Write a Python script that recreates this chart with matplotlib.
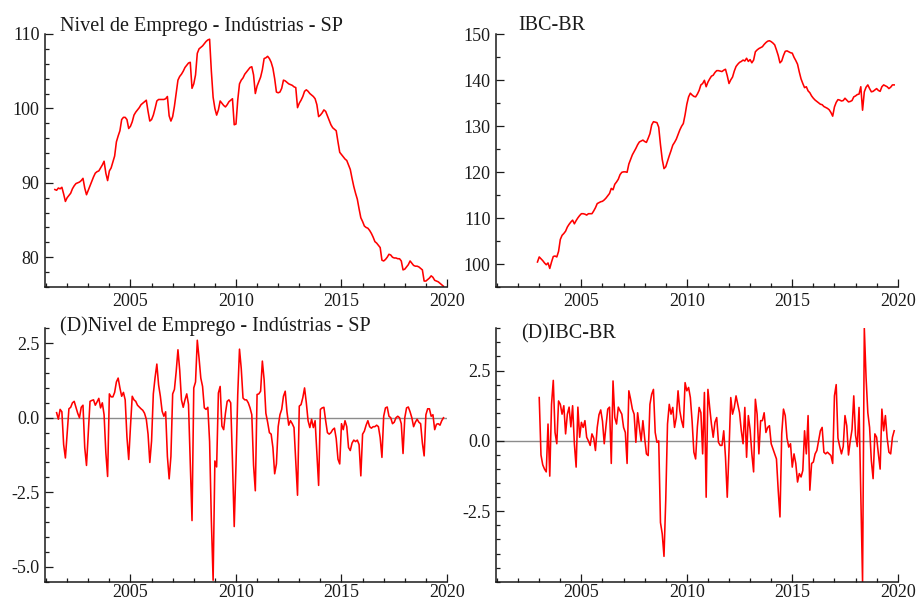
import numpy as np
import matplotlib
matplotlib.use('Agg')
import matplotlib.pyplot as plt
from matplotlib.ticker import MultipleLocator, FixedLocator, FormatStrFormatter

plt.rcParams['font.family'] = ['Liberation Serif', 'DejaVu Serif']
plt.rcParams['axes.unicode_minus'] = False

# Nivel de Emprego - Industrias - SP, monthly, 2001M6 .. 2019M11
emprego_inicio = (2001, 6)
emprego_nivel = [
    89.1, 89.0, 89.3, 89.2, 89.4, 88.5, 87.5,                            # 2001
    88.0, 88.3, 88.6, 89.2, 89.6, 89.9, 90.0, 90.1, 90.3, 90.6, 89.3, 88.4,  # 2002
    89.0, 89.6, 90.2, 90.8, 91.3, 91.5, 91.6, 92.0, 92.4, 92.9, 91.3, 90.3,  # 2003
    91.6, 92.0, 92.8, 93.6, 95.5, 96.3, 97.0, 98.5, 98.8, 98.8, 98.5, 97.3,  # 2004
    97.6, 98.2, 99.1, 99.5, 99.8, 100.1, 100.5, 100.7, 100.9, 101.1, 99.6, 98.3,  # 2005
    98.5, 99.1, 100.0, 101.0, 101.2, 101.2, 101.2, 101.2, 101.3, 101.6, 99.0, 98.3,  # 2006
    98.9, 100.3, 102.0, 103.8, 104.3, 104.6, 105.0, 105.5, 105.8, 106.1, 106.2, 102.7,  # 2007
    103.3, 104.5, 107.4, 108.0, 108.2, 108.4, 108.7, 109.0, 109.2, 109.3, 105.0, 101.5,  # 2008
    100.0, 99.1, 99.8, 101.0, 100.7, 100.4, 100.2, 100.5, 100.9, 101.1, 101.3, 97.8,  # 2009
    97.9, 101.1, 103.3, 103.8, 104.1, 104.6, 104.9, 105.2, 105.5, 105.6, 104.5, 102.0,  # 2010
    103.0, 103.6, 104.2, 105.2, 106.7, 106.8, 107.0, 106.7, 106.2, 105.4, 104.0, 102.2,  # 2011
    102.1, 102.2, 102.7, 103.8, 103.7, 103.5, 103.3, 103.2, 103.1, 102.9, 102.8, 100.1,  # 2012
    100.7, 101.1, 101.6, 102.3, 102.5, 102.3, 102.0, 101.8, 101.6, 101.3, 100.5, 98.9,  # 2013
    99.1, 99.4, 99.8, 99.6, 99.0, 98.4, 97.8, 97.4, 97.2, 97.0, 95.5, 94.1,  # 2014
    93.8, 93.5, 93.2, 93.0, 92.4, 91.8, 90.6, 89.5, 88.6, 87.8, 86.5, 85.3,  # 2015
    84.8, 84.2, 84.0, 83.9, 83.6, 83.2, 82.7, 82.1, 81.9, 81.6, 81.3, 79.6,  # 2016
    79.5, 79.7, 80.0, 80.4, 80.3, 80.0, 79.9, 79.9, 79.8, 79.8, 79.5, 78.3,  # 2017
    78.4, 78.7, 79.0, 79.5, 79.2, 78.9, 78.8, 78.8, 78.7, 78.5, 78.3, 76.8,  # 2018
    76.8, 77.0, 77.2, 77.5, 77.3, 76.9, 76.8, 76.7, 76.5, 76.3, 76.1,        # 2019
]

# (D) Nivel de Emprego, 2001M7 .. 2019M11
emprego_diff_inicio = (2001, 7)
emprego_diff = [
    0.17, -0.05, 0.28, 0.20, -0.90, -1.35,                                   # 2001
    -0.50, 0.30, 0.35, 0.50, 0.55, 0.35, 0.15, 0.00, 0.35, 0.42, -1.00, -1.60,  # 2002
    -0.50, 0.55, 0.58, 0.60, 0.42, 0.53, 0.65, 0.33, 0.50, 0.10, -1.17, -1.97,  # 2003
    0.80, 0.70, 0.70, 0.85, 1.20, 1.33, 1.00, 0.72, 0.85, 0.60, -0.65, -1.40,   # 2004
    -0.30, 0.72, 0.60, 0.55, 0.42, 0.36, 0.30, 0.25, 0.15, -0.05, -0.55, -1.50, # 2005
    -0.78, 0.80, 1.35, 1.80, 1.10, 0.72, 0.22, 0.05, 0.20, -1.30, -2.05, -1.30, # 2006
    0.80, 0.95, 1.55, 2.28, 1.60, 0.60, 0.35, 0.60, 0.80, 0.45, -1.45, -3.45,   # 2007
    1.00, 1.20, 2.60, 2.00, 1.33, 1.05, 0.33, 0.28, 0.35, -0.80, -3.45, -5.45,  # 2008
    -1.45, -1.65, 0.83, 1.05, -0.28, -0.40, 0.15, 0.55, 0.60, 0.50, -1.45, -3.65,  # 2009
    -1.60, 0.78, 2.30, 1.65, 0.66, 0.60, 0.60, 0.50, 0.33, 0.10, -1.60, -2.45,  # 2010
    0.78, 0.80, 0.89, 1.90, 1.28, 0.15, -0.15, -0.50, -0.55, -1.00, -1.88, -1.55,  # 2011
    -0.30, 0.10, 0.28, 0.72, 0.89, 0.20, -0.25, -0.10, -0.20, -0.33, -1.45, -2.60,  # 2012
    0.39, 0.44, 0.67, 1.00, 0.50, -0.10, -0.33, -0.05, -0.33, -0.10, -1.20, -2.27,  # 2013
    0.28, 0.33, 0.35, -0.10, -0.50, -0.55, -0.50, -0.40, -0.35, -0.70, -1.39, -1.55,  # 2014
    -0.20, -0.40, -0.10, -0.30, -1.00, -1.10, -0.85, -0.75, -0.80, -0.75, -0.90, -1.95,  # 2015
    -0.55, -0.45, -0.25, -0.10, -0.30, -0.35, -0.30, -0.30, -0.25, -0.30, -0.67, -1.33,  # 2016
    0.05, 0.33, 0.36, 0.05, 0.00, -0.20, -0.15, 0.00, 0.05, 0.00, -0.20, -1.20,  # 2017
    0.00, 0.33, 0.36, 0.20, 0.00, -0.30, -0.15, -0.05, -0.15, -0.20, -0.85, -1.28,  # 2018
    0.10, 0.30, 0.30, 0.05, 0.10, -0.40, -0.22, -0.20, -0.25, -0.10, 0.00,     # 2019
]

# IBC-BR, monthly, 2002M12 .. 2019M11
ibc_inicio = (2002, 12)
ibc_nivel = [
    100.5,                                                                    # 2002
    101.6, 101.2, 100.8, 100.3, 99.9, 100.3, 99.1, 100.5, 101.7, 101.8, 101.6, 102.8,  # 2003
    105.4, 106.3, 106.7, 107.2, 108.1, 108.7, 109.2, 109.6, 108.8, 109.5, 110.1, 110.6,  # 2004
    111.0, 111.0, 110.9, 110.7, 111.0, 111.0, 111.0, 111.6, 112.3, 113.2, 113.4, 113.6,  # 2005
    113.7, 114.0, 114.4, 114.9, 115.4, 116.5, 116.2, 117.4, 117.9, 118.5, 119.5, 120.0,  # 2006
    120.1, 120.1, 120.0, 121.8, 122.8, 123.8, 124.5, 125.2, 126.0, 126.6, 126.8, 127.0,  # 2007
    126.7, 126.5, 127.4, 128.4, 130.3, 131.0, 130.9, 130.8, 129.8, 126.0, 122.8, 120.8,  # 2008
    121.2, 122.4, 123.6, 124.7, 125.9, 126.5, 127.2, 128.2, 129.2, 130.0, 130.6, 132.5,  # 2009
    134.8, 136.4, 137.2, 136.8, 136.5, 136.4, 137.0, 137.8, 139.0, 139.3, 140.0, 138.6,  # 2010
    139.6, 140.3, 140.9, 141.1, 141.7, 142.1, 142.1, 142.0, 141.9, 142.2, 142.4, 141.0,  # 2011
    139.3, 140.1, 140.7, 142.0, 143.0, 143.5, 143.9, 144.1, 144.4, 144.2, 144.8, 144.1,  # 2012
    144.5, 143.8, 144.4, 146.2, 146.6, 146.9, 147.1, 147.3, 147.8, 148.2, 148.5, 148.6,  # 2013
    148.4, 148.1, 147.7, 146.6, 145.4, 143.8, 144.2, 145.4, 146.3, 146.4, 146.2, 146.0,  # 2014
    145.9, 145.0, 144.3, 143.5, 141.8, 140.3, 139.3, 138.4, 138.6, 137.7, 137.3, 136.6,  # 2015
    136.1, 135.7, 135.4, 135.1, 134.8, 134.7, 134.3, 134.1, 133.9, 133.6, 133.0, 132.2,  # 2016
    134.2, 135.2, 135.8, 135.7, 135.5, 135.6, 136.1, 135.7, 135.3, 135.4, 135.6, 136.4,  # 2017
    136.6, 136.9, 137.0, 138.6, 133.5, 137.5, 138.5, 139.0, 138.2, 137.5, 137.6, 137.9,  # 2018
    138.2, 137.8, 137.6, 138.6, 139.0, 138.8, 138.6, 138.2, 138.5, 139.0, 139.0,         # 2019
]

# (D) IBC-BR, 2003M1 .. 2019M11
ibc_diff_inicio = (2003, 1)
ibc_diff = [
    1.54, -0.50, -0.85, -1.00, -1.10, 0.60, -1.25, 1.30, 2.15, 0.30, -0.10, 1.42,   # 2003
    1.30, 0.95, 1.25, 0.25, 0.95, 1.20, 0.50, 1.25, -0.10, -0.93, 1.20, 0.13,      # 2004
    0.66, 0.48, 0.72, 0.13, 0.00, -0.16, 0.25, 0.10, -0.34, 0.48, 0.93, 1.10,      # 2005
    0.70, -0.10, 0.54, 1.13, 1.20, -0.80, 2.13, 0.83, 0.60, 1.20, 1.07, 0.95,      # 2006
    0.48, 0.30, -0.80, 1.78, 1.48, 1.13, 0.95, -0.05, 1.00, 0.48, 0.00, 0.72,      # 2007
    0.10, -0.46, -0.52, 1.30, 1.66, 1.83, 0.30, -0.05, 0.00, -2.90, -3.30, -4.10,  # 2008
    -2.10, 0.60, 1.30, 0.95, 1.19, 0.48, 0.83, 1.78, 1.07, 0.72, 0.48, 2.07,       # 2009
    1.78, 1.90, 1.54, 0.70, -0.40, -0.64, 0.50, 1.19, 1.00, -0.46, 1.72, -2.00,    # 2010
    1.83, 1.19, 0.60, 0.13, 0.66, 0.83, -0.05, -0.16, -0.16, 0.36, -0.58, -2.00,   # 2011
    -0.34, 1.54, 0.95, 1.19, 1.60, 1.30, 1.00, 0.36, -0.10, 1.19, -0.58, 0.90,     # 2012
    0.40, -0.46, -1.10, 1.48, 0.95, -0.46, 0.72, 0.72, 1.00, 0.30, 0.48, 0.54,     # 2013
    -0.10, -0.28, -0.46, -0.64, -1.75, -2.70, 0.25, 1.13, 0.90, 0.10, -0.22, -0.10,  # 2014
    -0.93, -0.46, -0.80, -1.46, -1.16, -1.28, -1.05, 0.36, -0.46, 0.90, -1.75, -0.80,  # 2015
    -0.75, -0.46, -0.34, 0.00, 0.36, 0.48, -0.40, -0.46, -0.40, -0.46, -0.52, -0.80,  # 2016
    1.60, 2.00, 0.10, -0.20, -0.46, -0.20, 0.90, 0.54, -0.50, 0.00, 0.40, 1.60,    # 2017
    0.20, -0.20, 1.19, -1.90, -5.00, 4.00, 2.25, 1.00, 0.48, -0.70, -1.34, 0.25,   # 2018
    0.13, -0.46, -1.00, 1.13, 0.36, 0.90, 0.10, -0.40, -0.46, 0.13, 0.36,          # 2019
]

FIG_W, FIG_H = 918, 600
RED = '#ff0000'
INK = '#1a1a1a'


def datas(inicio, n):
    # monthly positions in decimal years
    ano, mes = inicio
    return ano + (mes - 1 + np.arange(n)) / 12.0


def painel(fig, box, x, y, ylim, yticks, yminor, fmt, titulo, titulo_xy,
           zero=False, xpad=4):
    l, t, r, b = box
    ax = fig.add_axes([l / FIG_W, 1 - b / FIG_H, (r - l) / FIG_W, (b - t) / FIG_H])
    if zero:
        ax.axhline(0, color='#8c8c8c', linewidth=1.0, zorder=1)
    ax.plot(x, y, color=RED, linewidth=1.15, zorder=2)
    ax.set_xlim(2000.95, 2020)
    ax.set_ylim(*ylim)
    ax.xaxis.set_major_locator(FixedLocator([2005, 2010, 2015, 2020]))
    ax.xaxis.set_minor_locator(MultipleLocator(1))
    ax.yaxis.set_major_locator(FixedLocator(yticks))
    ax.yaxis.set_minor_locator(MultipleLocator(yminor))
    ax.yaxis.set_major_formatter(FormatStrFormatter(fmt))
    for s in ['top', 'right']:
        ax.spines[s].set_visible(False)
    for s in ['left', 'bottom']:
        ax.spines[s].set_color(INK)
        ax.spines[s].set_linewidth(1.1)
    ax.tick_params(which='both', direction='in', colors=INK, labelsize=13, width=0.9)
    ax.tick_params(which='major', length=5.5)
    ax.tick_params(which='minor', length=3)
    ax.tick_params(axis='y', which='major', pad=4)
    ax.tick_params(axis='x', which='major', pad=xpad)
    ax.patch.set_alpha(0)
    fig.text(titulo_xy[0] / FIG_W, 1 - titulo_xy[1] / FIG_H, titulo,
             fontsize=14.5, color=INK, ha='left', va='baseline')
    return ax


fig = plt.figure(figsize=(FIG_W / 100, FIG_H / 100), dpi=100)
fig.patch.set_facecolor('white')

painel(fig, (45, 34, 447, 287),
       datas(emprego_inicio, len(emprego_nivel)), emprego_nivel,
       (76, 110), [80, 90, 100, 110], 2, '%d',
       'Nivel de Emprego - Indústrias - SP', (60, 30.5))

painel(fig, (496, 34.3, 897.7, 287.3),
       datas(ibc_inicio, len(ibc_nivel)), ibc_nivel,
       (95, 150), [100, 110, 120, 130, 140, 150], 5, '%d',
       'IBC-BR', (518, 30.5))

painel(fig, (45, 328.3, 447, 581.7),
       datas(emprego_diff_inicio, len(emprego_diff)), emprego_diff,
       (-5.5, 3.0), [-5.0, -2.5, 0.0, 2.5], 0.5, '%.1f',
       '(D)Nivel de Emprego - Indústrias - SP', (60, 331), zero=True, xpad=2)

painel(fig, (496, 328.3, 897.7, 581.7),
       datas(ibc_diff_inicio, len(ibc_diff)), ibc_diff,
       (-5.0, 4.0), [-2.5, 0.0, 2.5], 0.5, '%.1f',
       '(D)IBC-BR', (521, 338), zero=True, xpad=2)

fig.savefig('out.png', dpi=100)
